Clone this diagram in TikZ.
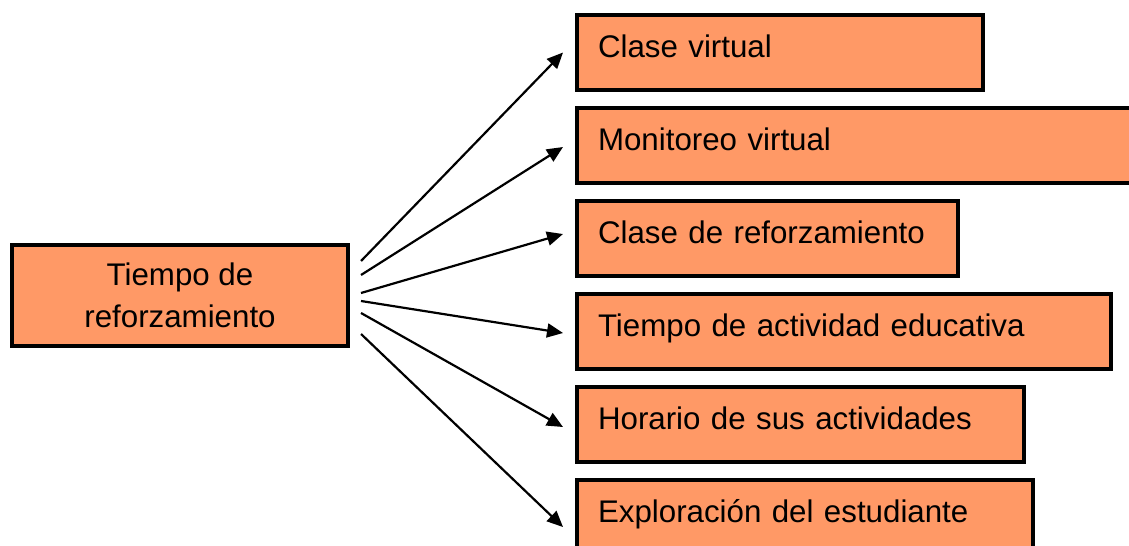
\documentclass[tikz,border=0pt]{standalone}
\usepackage{fontspec}
\setmainfont{Liberation Sans}
\usepackage{xcolor}
\usetikzlibrary{arrows.meta}

\definecolor{boxorange}{RGB}{255,153,102}

\tikzset{
  box/.style={draw=black, fill=boxorange, line width=2.3pt,
    font=\fontsize{17.8}{24}\selectfont},
  item/.style={box, anchor=north west, minimum height=1.5cm,
    inner xsep=0.42cm, text height=0.4cm, text depth=0.22cm,
    align=left, text width=#1},
  arr/.style={line width=1.25pt, -{Triangle[length=0.32cm,width=0.28cm]}}
}

\begin{document}
\begin{tikzpicture}
\useasboundingbox (0,0) rectangle (22.58,-10.92);
\clip (0,0) rectangle (22.58,-10.92);

% source box
\node[box, minimum width=6.72cm, minimum height=2.02cm, align=center]
  (tiempo) at (3.60,-5.91) {Tiempo de\\reforzamiento};

% target boxes
\node[item=7.28cm]  (clase)       at (11.50,-0.26) {Clase virtual};
\node[item=10.42cm] (monitoreo)   at (11.50,-2.12) {Monitoreo virtual};
\node[item=6.78cm]  (refuerzo)    at (11.50,-3.98) {Clase de reforzamiento};
\node[item=9.84cm]  (actividad)   at (11.50,-5.84) {Tiempo de actividad educativa};
\node[item=8.10cm]  (horario)     at (11.50,-7.70) {Horario de sus actividades};
\node[item=8.28cm]  (exploracion) at (11.50,-9.56) {Exploración del estudiante};

% arrows
\foreach \b/\sy/\ey in {clase/0.69/0, monitoreo/0.41/-0.03, refuerzo/0.05/0.09,
    actividad/-0.11/-0.03, horario/-0.35/-0.05, exploracion/-0.77/-0.19}
  \draw[arr] ([xshift=0.22cm,yshift=\sy cm]tiempo.east)
          -- ([xshift=-0.24cm,yshift=\ey cm]\b.west);

\end{tikzpicture}
\end{document}
